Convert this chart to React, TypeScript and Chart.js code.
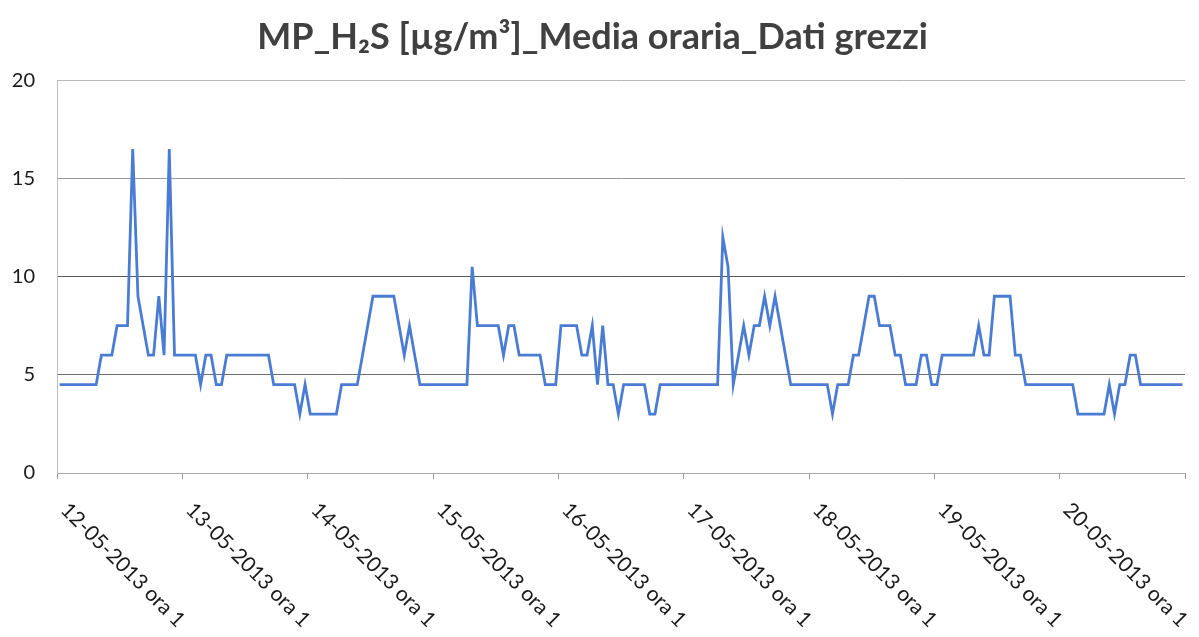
import React, { useEffect, useRef } from 'react';
import { Chart, registerables } from 'chart.js';

Chart.register(...registerables);

const titleText = 'MP_H₂S [µg/m³]_Media oraria_Dati grezzi';
const dayLabels = ['12-05-2013', '13-05-2013', '14-05-2013', '15-05-2013', '16-05-2013', '17-05-2013', '18-05-2013', '19-05-2013', '20-05-2013'];
const yTickValues = [0, 5, 10, 15, 20];

// hourly means, ora 1..24 for each day
const day12 = [4.5, 4.5, 4.5, 4.5, 4.5, 4.5, 4.5, 4.5, 6, 6, 6, 7.5, 7.5, 7.5, 16.5, 9, 7.5, 6, 6, 9, 6, 16.5, 6, 6];
const day13 = [6, 6, 6, 4.5, 6, 6, 4.5, 4.5, 6, 6, 6, 6, 6, 6, 6, 6, 6, 4.5, 4.5, 4.5, 4.5, 4.5, 3, 4.5];
const day14 = [3, 3, 3, 3, 3, 3, 4.5, 4.5, 4.5, 4.5, 6, 7.5, 9, 9, 9, 9, 9, 7.5, 6, 7.5, 6, 4.5, 4.5, 4.5];
const day15 = [4.5, 4.5, 4.5, 4.5, 4.5, 4.5, 4.5, 10.5, 7.5, 7.5, 7.5, 7.5, 7.5, 6, 7.5, 7.5, 6, 6, 6, 6, 6, 4.5, 4.5, 4.5];
const day16 = [7.5, 7.5, 7.5, 7.5, 6, 6, 7.5, 4.5, 7.5, 4.5, 4.5, 3, 4.5, 4.5, 4.5, 4.5, 4.5, 3, 3, 4.5, 4.5, 4.5, 4.5, 4.5];
const day17 = [4.5, 4.5, 4.5, 4.5, 4.5, 4.5, 4.5, 12, 10.5, 4.5, 6, 7.5, 6, 7.5, 7.5, 9, 7.5, 9, 7.5, 6, 4.5, 4.5, 4.5, 4.5];
const day18 = [4.5, 4.5, 4.5, 4.5, 3, 4.5, 4.5, 4.5, 6, 6, 7.5, 9, 9, 7.5, 7.5, 7.5, 6, 6, 4.5, 4.5, 4.5, 6, 6, 4.5];
const day19 = [4.5, 6, 6, 6, 6, 6, 6, 6, 7.5, 6, 6, 9, 9, 9, 9, 6, 6, 4.5, 4.5, 4.5, 4.5, 4.5, 4.5, 4.5];
const day20 = [4.5, 4.5, 4.5, 3, 3, 3, 3, 3, 3, 4.5, 3, 4.5, 4.5, 6, 6, 4.5, 4.5, 4.5, 4.5, 4.5, 4.5, 4.5, 4.5, 4.5];

const values = [...day12, ...day13, ...day14, ...day15, ...day16, ...day17, ...day18, ...day19, ...day20];
const categories = dayLabels.flatMap((d) => Array.from({ length: 24 }, (_, h) => `${d} ora ${h + 1}`));

const gridColor: Record<number, string> = { 0: '#a8a8a8', 5: '#6e6e6e', 10: '#5a5a5a', 15: '#9a9a9a', 20: '#b8b8b8' };

const xLabelPlugin = {
  id: 'xLabels',
  afterDraw(chart: any) {
    const xs = chart.scales.x;
    const ctx = chart.ctx;
    ctx.save();
    ctx.font = '21px Lato, "Open Sans", sans-serif';
    ctx.fillStyle = '#1a1a1a';
    ctx.textAlign = 'left';
    ctx.textBaseline = 'top';
    for (let i = 0; i < categories.length; i += 24) {
      const x = xs.getPixelForValue(i);
      ctx.save();
      ctx.translate(x + 12, xs.top + 26);
      ctx.rotate(Math.PI / 4);
      ctx.fillText(categories[i], 0, 0);
      ctx.restore();
    }
    ctx.restore();
  },
};

export default function App() {
  const ref = useRef<HTMLCanvasElement | null>(null);
  useEffect(() => {
    if (!ref.current) return;
    const chart = new Chart(ref.current, {
      type: 'line',
      data: {
        labels: categories,
        datasets: [
          {
            data: values,
            borderColor: '#4a7cd4',
            backgroundColor: '#4a7cd4',
            borderWidth: 2.8,
            pointRadius: 0,
            tension: 0,
            fill: false,
          },
        ],
      },
      options: {
        animation: false,
        responsive: true,
        maintainAspectRatio: false,
        layout: { padding: { left: 0, right: 14, top: 0, bottom: 0 } },
        plugins: {
          legend: { display: false },
          tooltip: { enabled: false },
          title: {
            display: true,
            text: titleText,
            color: '#404040',
            font: { family: 'Lato, "Open Sans", sans-serif', size: 36, weight: 'bold' },
            padding: { top: 16, bottom: 21 },
          },
        },
        scales: {
          x: {
            type: 'category',
            offset: true,
            ticks: { display: false, autoSkip: false },
            grid: {
              offset: true,
              drawOnChartArea: false,
              drawTicks: true,
              tickLength: 6,
              color: (c: any) => (c.index === undefined || c.index % 24 === 0 ? '#999' : 'rgba(0,0,0,0)'),
            },
            border: { display: true, color: '#a8a8a8' },
            afterFit: (s: any) => {
              s.height = 164;
            },
          },
          y: {
            min: 0,
            max: 20,
            ticks: {
              stepSize: 5,
              padding: 22,
              color: '#1a1a1a',
              font: { family: 'Lato, "Open Sans", sans-serif', size: 20 },
            },
            grid: {
              drawTicks: false,
              color: (c: any) => gridColor[c.tick?.value] ?? '#999',
              lineWidth: 1,
            },
            border: { display: true, color: '#bdbdbd' },
            afterFit: (s: any) => {
              s.width = 57;
            },
          },
        },
      },
      plugins: [xLabelPlugin],
    });
    return () => chart.destroy();
  }, []);
  return (
    <div style={{ position: 'absolute', left: 0, top: 0, width: 1199, height: 637, background: '#fff' }}>
      <canvas ref={ref} />
    </div>
  );
}
